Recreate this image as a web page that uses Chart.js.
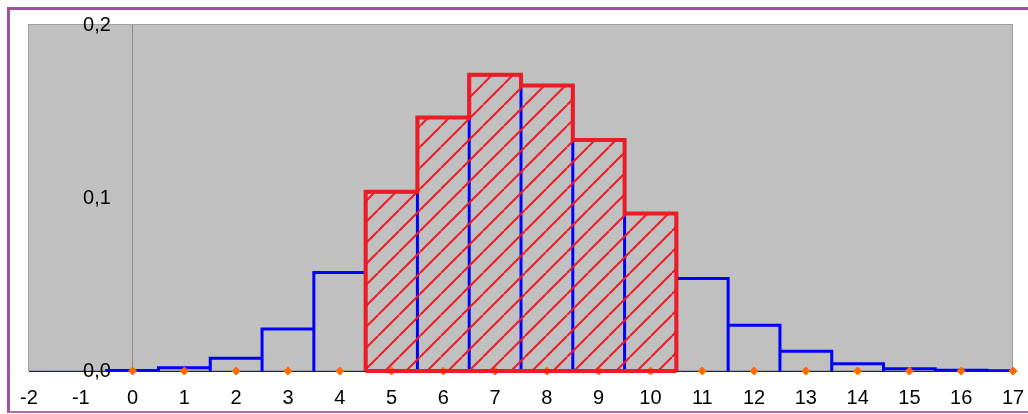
<!DOCTYPE html>
<html>
<head>
<meta charset="utf-8">
<script src="https://cdn.jsdelivr.net/npm/chart.js@4.4.1/dist/chart.umd.min.js"></script>
<style>
  html, body { margin: 0; padding: 0; background: #fff; }
  #wrap { position: relative; width: 1028px; height: 414px; overflow: hidden; }
  #wrap canvas { position: absolute; left: 0; top: 0; }
  #frame {
    position: absolute; left: 7px; top: 7px; width: 1040px; height: 401px;
    border-left: 3px solid #a44fa6; border-top: 3px solid #a44fa6; border-bottom: 2px solid #b06cb2;
    pointer-events: none;
  }
</style>
</head>
<body>
<div id="wrap">
  <canvas id="myChart" width="1028" height="414"></canvas>
  <div id="frame"></div>
</div>
<script>
// values
const categories = [0, 1, 2, 3, 4, 5, 6, 7, 8, 9, 10, 11, 12, 13, 14, 15, 16, 17];
const probabilities = [0.0003, 0.0019, 0.0073, 0.0243, 0.057, 0.1036, 0.1466, 0.1713, 0.165,
  0.1335, 0.0911, 0.0534, 0.0264, 0.0114, 0.0042, 0.0013, 0.0004, 0.0001];
const highlighted = [5, 6, 7, 8, 9, 10];
const markerX = [0, 1, 2, 3, 4, 5, 6, 7, 8, 9, 10, 11, 12, 13, 14, 15, 16, 17];
const yTickLabels = ["0,0", "0,1", "0,2"];

const blue = "#0000ff";
const red = "#ed1c24";
const orange = "#ff6a00";

// outline of every bar as a rectangle (no bottom edge)
let barOutline = [];
categories.forEach((c, i) => {
  let v = probabilities[i];
  barOutline.push({ x: c - 0.5, y: 0 }, { x: c - 0.5, y: v }, { x: c + 0.5, y: v }, { x: c + 0.5, y: 0 });
});

// outline of the highlighted block
let shaded = [];
highlighted.forEach((c, i) => {
  let v = probabilities[categories.indexOf(c)];
  if (i === 0) shaded.push({ x: c - 0.5, y: 0 });
  shaded.push({ x: c - 0.5, y: v }, { x: c + 0.5, y: v });
});
let lastHi = highlighted[highlighted.length - 1];
shaded.push({ x: lastHi + 0.5, y: 0 });
let shadedBase = [{ x: highlighted[0] - 0.5, y: 0 }, { x: lastHi + 0.5, y: 0 }];

function makeHatch() {
  const s = 21;
  const c = document.createElement("canvas");
  c.width = s;
  c.height = s;
  const g = c.getContext("2d");
  g.strokeStyle = red;
  g.lineWidth = 2;
  g.beginPath();
  for (let k = -s; k <= s; k += s) {
    g.moveTo(k, s);
    g.lineTo(k + s, 0);
  }
  g.stroke();
  return g.createPattern(c, "repeat");
}

const plotBackground = {
  id: "plotBackground",
  beforeDraw(chart) {
    const { ctx, chartArea: a } = chart;
    ctx.save();
    ctx.fillStyle = "#c0c0c0";
    ctx.fillRect(a.left, a.top, a.right - a.left, a.bottom - a.top);
    ctx.strokeStyle = "#a0a0a0";
    ctx.lineWidth = 1;
    ctx.strokeRect(a.left - 0.5, a.top - 0.5, a.right - a.left, a.bottom - a.top);
    ctx.restore();
  },
};

Chart.defaults.font.family = "'Liberation Sans', Arial, sans-serif";
Chart.defaults.font.size = 20;
Chart.defaults.color = "#000";

const ctx = document.getElementById("myChart");

new Chart(ctx, {
  type: "line",
  data: {
    datasets: [
      {
        data: barOutline,
        borderColor: blue,
        borderWidth: 3,
        pointRadius: 0,
        fill: false,
        order: 4,
      },
      {
        data: markerX.map((x) => ({ x: x, y: 0 })),
        showLine: false,
        pointStyle: "rectRot",
        pointRadius: 4,
        pointBorderWidth: 1,
        pointBackgroundColor: orange,
        pointBorderColor: orange,
        clip: false,
        order: 3,
      },
      {
        data: shaded,
        borderColor: red,
        borderWidth: 4,
        pointRadius: 0,
        fill: "origin",
        backgroundColor: makeHatch(),
        order: 2,
      },
      {
        data: shadedBase,
        borderColor: red,
        borderWidth: 4,
        pointRadius: 0,
        fill: false,
        clip: false,
        order: 1,
      },
    ],
  },
  options: {
    responsive: false,
    animation: false,
    layout: { autoPadding: false, padding: { left: 29, right: 15, top: 25, bottom: 0 } },
    plugins: { legend: { display: false }, tooltip: { enabled: false } },
    scales: {
      x: {
        type: "linear",
        min: -2,
        max: 17,
        grid: {
          drawTicks: false,
          color: (c) => (c.tick && c.tick.value === 0 ? "#8c8c8c" : "rgba(0,0,0,0)"),
        },
        border: { color: "#1a1a80", width: 1 },
        ticks: {
          stepSize: 1,
          padding: 15,
          maxRotation: 0,
          autoSkip: false,
          callback: (value) => String(value),
        },
        afterFit: (scale) => {
          scale.paddingLeft = 0;
          scale.paddingRight = 0;
          scale.height = 43;
        },
      },
      y: {
        position: { x: -0.42 },
        min: 0,
        max: 0.2,
        grid: { display: false, drawTicks: false },
        border: { display: false },
        ticks: {
          stepSize: 0.1,
          callback: (value, index) => yTickLabels[index],
        },
        afterFit: (scale) => {
          scale.width = 0;
          scale.paddingTop = 0;
          scale.paddingBottom = 0;
        },
      },
    },
  },
  plugins: [plotBackground],
});
</script>
</body>
</html>
